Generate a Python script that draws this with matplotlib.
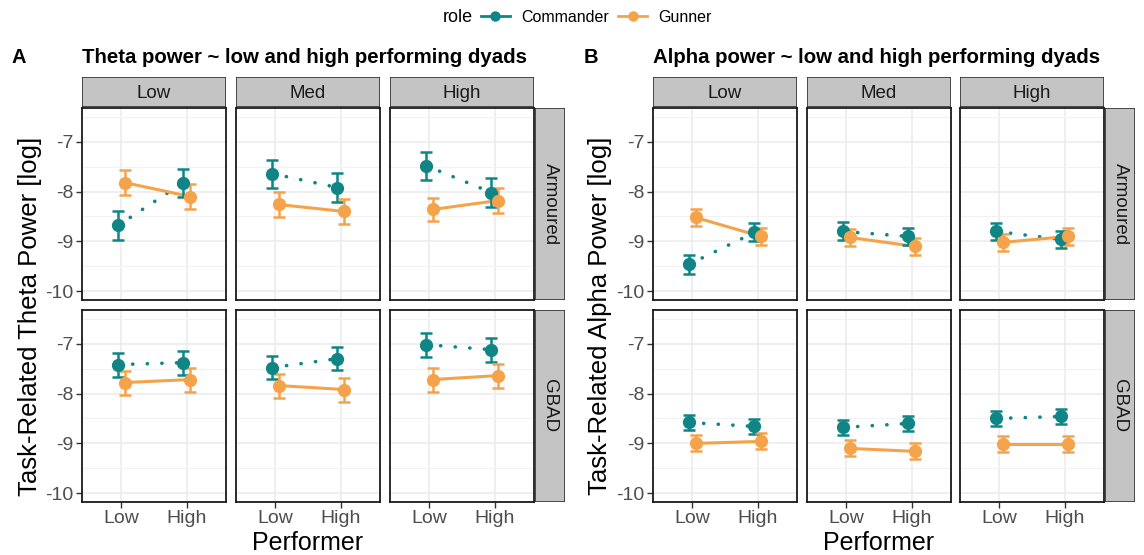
import matplotlib
matplotlib.use("Agg")
import matplotlib.pyplot as plt
from matplotlib.lines import Line2D
from matplotlib.patches import Rectangle
import numpy as np

plt.rcParams['font.family'] = ['Liberation Sans', 'DejaVu Sans']

# facets and categories
rows = ['Armoured', 'GBAD']
cols = ['Low', 'Med', 'High']
performer = ['Low', 'High']
roles = ['Commander', 'Gunner']

# Theta power (rows x cols x performer)
theta_cmd = [[[-8.68, -7.82], [-7.64, -7.92], [-7.48, -8.02]],
             [[-7.42, -7.38], [-7.48, -7.30], [-7.02, -7.12]]]
theta_cmd_err = [[[0.29, 0.28], [0.28, 0.29], [0.28, 0.29]],
                 [[0.24, 0.24], [0.23, 0.23], [0.24, 0.24]]]
theta_gun = [[[-7.82, -8.10], [-8.26, -8.40], [-8.36, -8.18]],
             [[-7.78, -7.72], [-7.84, -7.92], [-7.72, -7.64]]]
theta_gun_err = [[[0.25, 0.25], [0.25, 0.25], [0.24, 0.25]],
                 [[0.24, 0.24], [0.24, 0.24], [0.24, 0.24]]]

# Alpha power
alpha_cmd = [[[-9.46, -8.82], [-8.80, -8.90], [-8.80, -8.96]],
             [[-8.58, -8.66], [-8.68, -8.60], [-8.50, -8.46]]]
alpha_cmd_err = [[[0.19, 0.18], [0.18, 0.17], [0.17, 0.17]],
                 [[0.15, 0.15], [0.15, 0.15], [0.15, 0.15]]]
alpha_gun = [[[-8.52, -8.90], [-8.92, -9.10], [-9.02, -8.90]],
             [[-9.00, -8.96], [-9.10, -9.16], [-9.02, -9.02]]]
alpha_gun_err = [[[0.17, 0.17], [0.17, 0.17], [0.17, 0.17]],
                 [[0.16, 0.16], [0.16, 0.16], [0.16, 0.16]]]

teal = '#0f8585'
orange = '#f5a34a'

W, H = 1144, 555
fig = plt.figure(figsize=(W / 100, H / 100), dpi=100)


def rect(x0, y0, x1, y1):
    return [x0 / W, 1 - y1 / H, (x1 - x0) / W, (y1 - y0) / H]


def panel(col_x, strip_x, ylab_x, letter, letter_x, title, cmd, cmd_err, gun, gun_err, ylabel):
    row_y = [(108, 300), (310, 502)]
    xpos = np.arange(1, len(performer) + 1)
    for r in range(len(rows)):
        y0, y1 = row_y[r]
        for c in range(len(cols)):
            x0 = col_x[c]
            ax = fig.add_axes(rect(x0, y0, x0 + 144, y1))
            ax.set_xlim(0.4, 2.6)
            ax.set_ylim(-10.175, -6.325)
            ax.set_yticks([-10, -9, -8, -7])
            ax.set_yticks([-9.5, -8.5, -7.5, -6.5], minor=True)
            ax.set_xticks(xpos)
            ax.grid(True, which='major', color='#ebebeb', lw=1.1, zorder=0)
            ax.grid(True, which='minor', axis='y', color='#f2f2f2', lw=0.8, zorder=0)
            ax.tick_params(which='minor', length=0)
            ax.tick_params(which='major', length=4, width=1, color='#333333',
                           labelsize=14, labelcolor='#4d4d4d', pad=2)
            for s in ax.spines.values():
                s.set_color('#1a1a1a')
                s.set_linewidth(1.3)
            if c == 0:
                ax.set_yticklabels(['-10', '-9', '-8', '-7'])
            else:
                ax.tick_params(axis='y', length=0, labelleft=False)
            if r == len(rows) - 1:
                ax.set_xticklabels(performer)
            else:
                ax.tick_params(axis='x', length=0, labelbottom=False)

            for vals, errs, color, ls, off in [(cmd, cmd_err, teal, (0, (0.05, 4.0)), -0.05),
                                               (gun, gun_err, orange, '-', 0.05)]:
                xs = xpos + off
                ax.plot(xs, vals[r][c], color=color, lw=2.6 if color == teal else 2.2,
                        ls=ls, dash_capstyle='round', solid_capstyle='round', zorder=2)
                ax.errorbar(xs, vals[r][c], yerr=errs[r][c], fmt='o', color=color,
                            ms=8.5, elinewidth=1.8, capsize=4, capthick=1.8, zorder=3)

            # top strip
            if r == 0:
                sax = fig.add_axes(rect(x0, 77, x0 + 144, 107))
                sax.add_patch(Rectangle((0, 0), 1, 1, transform=sax.transAxes,
                                        facecolor='#c4c4c4', edgecolor='#333333', lw=1.2))
                sax.set_axis_off()
                sax.text(0.5, 0.45, cols[c], ha='center', va='center', fontsize=13.5,
                         color='#1a1a1a', transform=sax.transAxes)
        # right strip
        rax = fig.add_axes(rect(strip_x, y0, strip_x + 30, y1))
        rax.add_patch(Rectangle((0, 0), 1, 1, transform=rax.transAxes,
                                facecolor='#c4c4c4', edgecolor='#333333', lw=1.2))
        rax.set_axis_off()
        rax.text(0.5, 0.5, rows[r], ha='center', va='center', fontsize=13.5, rotation=-90,
                 color='#1a1a1a', transform=rax.transAxes)

    fig.text(letter_x / W, 1 - 57 / H, letter, fontsize=14.5, fontweight='bold', va='center')
    fig.text(col_x[0] / W, 1 - 57 / H, title, fontsize=14.7, fontweight='bold', va='center')
    fig.text(ylab_x / W, 1 - 316 / H, ylabel, fontsize=18.5, rotation=90,
             ha='center', va='center')
    fig.text((col_x[0] + col_x[2] + 144) / 2 / W, 1 - 543 / H, 'Performer', fontsize=18,
             ha='center', va='center')


panel([82, 236, 390], 535, 30, 'A', 12,
      'Theta power ~ low and high performing dyads',
      theta_cmd, theta_cmd_err, theta_gun, theta_gun_err,
      'Task-Related Theta Power [log]')
panel([653, 807, 960], 1105, 600, 'B', 584,
      'Alpha power ~ low and high performing dyads',
      alpha_cmd, alpha_cmd_err, alpha_gun, alpha_gun_err,
      'Task-Related Alpha Power [log]')

# legend
handles = [Line2D([0], [0], color=teal, lw=2, marker='o', ms=6.5),
           Line2D([0], [0], color=orange, lw=2, marker='o', ms=6.5)]
fig.text(443 / W, 1 - 17 / H, 'role', fontsize=13, va='center', ha='left')
fig.legend(handles, roles, ncol=2, loc='center left', bbox_to_anchor=(481 / W, 1 - 17 / H),
           frameon=False, fontsize=11.5, handlelength=1.8, columnspacing=0.6,
           handletextpad=0.7, borderaxespad=0, borderpad=0)

fig.savefig('out.png', dpi=100)
